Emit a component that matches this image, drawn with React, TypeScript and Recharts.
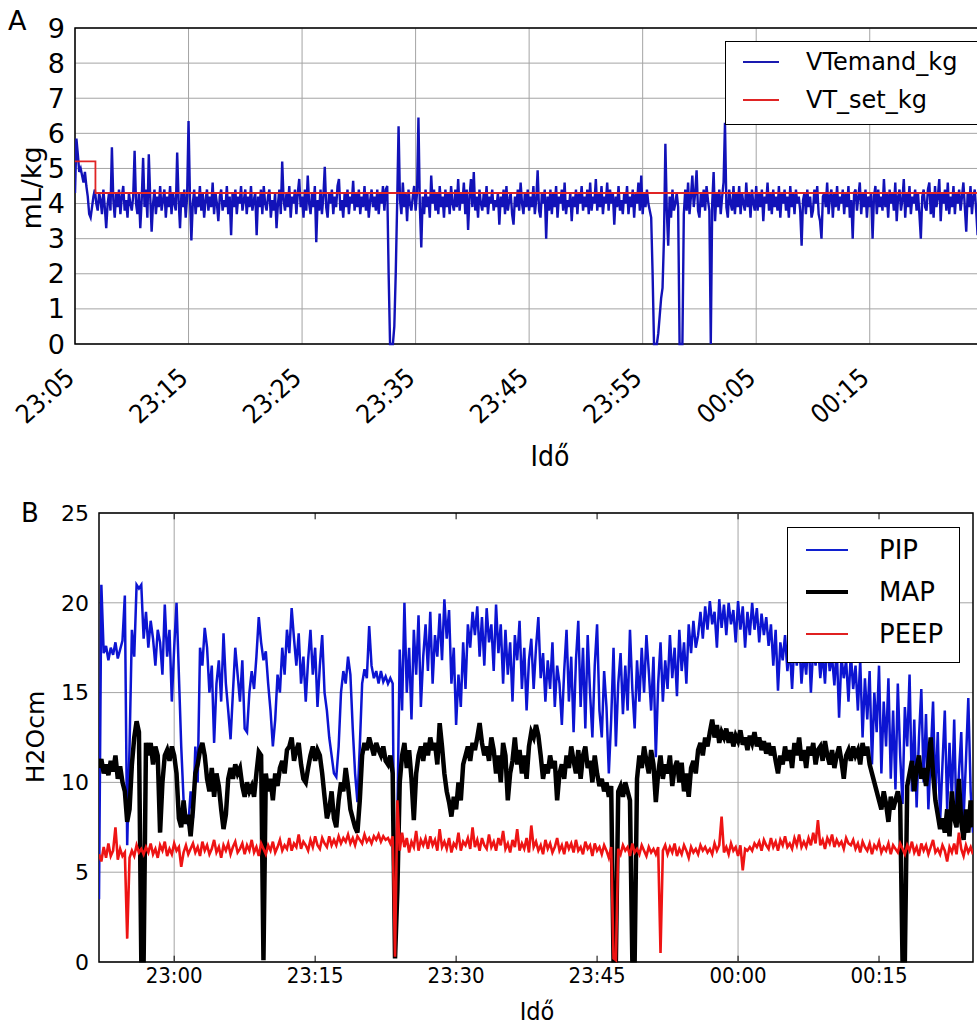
import React from "react"
import {
  LineChart,
  Line,
  XAxis,
  YAxis,
  CartesianGrid,
  ReferenceLine,
  ReferenceArea,
  Legend,
  Label,
} from "recharts"

const FONT = "'DejaVu Sans', 'Liberation Sans', sans-serif"
const FONT_COND = "'DejaVu Sans Condensed', 'DejaVu Sans', sans-serif"
const GRID = "#a4a4a4"

// ---- panel A: minutes after 23:05, one sample every 7.5 s ----
const A_STEP = 0.125
const vtemandKg = [
  4.3, 5.85, 5.4, 4.9, 5.0, 4.8, 4.6, 4.9, 4.5, 4.2, 3.7, 3.6, 3.9, 4.2, 4.4, 4.0, 3.8, 4.3, 4.1, 3.7,
  4.4, 3.9, 3.3, 4.0, 4.3, 3.8, 5.6, 4.1, 3.6, 4.3, 3.9, 4.4, 3.7, 4.2, 4.5, 3.8, 4.1, 3.6, 4.3, 4.0,
  3.8, 4.2, 5.5, 4.0, 3.7, 4.3, 3.3, 4.1, 5.3, 3.9, 4.4, 3.6, 5.4, 4.2, 3.2, 4.0, 4.4, 3.7, 4.2, 3.9,
  4.5, 3.8, 4.1, 4.4, 3.6, 4.2, 3.9, 4.5, 3.7, 4.3, 4.0, 3.8, 5.45, 4.1, 3.3, 4.3, 3.9, 4.4, 3.6, 4.2,
  6.35, 4.2, 2.95, 4.0, 4.4, 3.7, 4.2, 3.9, 4.5, 3.8, 4.3, 3.6, 4.1, 4.4, 3.8, 4.2, 3.9, 4.6, 3.7, 4.3,
  4.0, 3.5, 4.2, 4.4, 3.8, 4.1, 3.9, 4.5, 3.7, 4.2, 3.1, 4.3, 3.9, 4.4, 3.7, 4.2, 4.0, 4.5, 3.8, 4.1,
  4.4, 3.7, 4.2, 3.9, 4.5, 3.8, 4.1, 4.3, 3.1, 4.2, 3.9, 4.4, 3.7, 4.5, 4.0, 3.8, 4.2, 4.4, 3.6, 4.1,
  3.8, 4.3, 3.3, 4.0, 4.4, 3.7, 5.2, 4.1, 3.8, 4.3, 3.9, 4.5, 3.6, 4.2, 4.0, 4.4, 3.7, 4.3, 4.7, 3.9,
  4.2, 3.6, 4.4, 3.8, 4.8, 4.0, 3.7, 4.3, 3.9, 4.5, 2.9, 4.1, 3.8, 4.4, 3.7, 4.2, 5.05, 3.9, 3.6, 4.3,
  4.0, 4.4, 3.7, 4.2, 3.9, 4.5, 4.7, 3.8, 4.1, 3.6, 4.3, 3.9, 4.4, 3.7, 4.2, 4.0, 4.65, 3.8, 4.3, 3.9,
  4.4, 3.7, 4.2, 3.9, 4.5, 3.8, 4.3, 3.6, 4.1, 4.4, 3.9, 4.2, 3.8, 4.4, 3.7, 4.3, 4.0, 4.5, 3.8, 4.4,
  4.5, 2.0, 0, 0, 0, 0.5, 2.0, 4.0, 6.2, 4.1, 3.7, 4.6, 3.9, 4.3, 3.5, 4.4, 4.0, 3.8, 4.2, 4.5,
  3.8, 4.3, 6.45, 3.9, 2.75, 4.2, 3.7, 4.4, 3.9, 4.2, 3.6, 4.8, 4.0, 4.4, 3.8, 4.3, 3.7, 4.5, 3.9, 4.2,
  3.6, 4.4, 3.9, 4.3, 3.7, 4.5, 4.0, 3.8, 4.4, 3.9, 4.7, 3.8, 4.3, 4.0, 4.6, 3.7, 4.4, 3.25, 4.2, 4.7,
  3.9, 4.9, 3.8, 4.2, 3.6, 4.4, 4.0, 3.8, 4.3, 3.9, 4.5, 3.7, 4.2, 4.0, 4.4, 3.8, 4.1, 3.9, 4.3, 3.4,
  4.2, 3.9, 4.4, 3.7, 4.5, 3.8, 4.1, 4.3, 3.7, 3.4, 4.2, 3.9, 4.4, 3.8, 4.6, 4.0, 3.7, 4.3, 3.9, 4.4,
  3.8, 4.2, 3.9, 4.5, 3.7, 4.1, 4.95, 3.8, 3.6, 4.3, 4.0, 4.4, 3.0, 4.2, 3.8, 4.4, 3.7, 4.3, 3.9, 4.5,
  3.6, 4.2, 4.0, 4.4, 3.8, 4.6, 3.7, 4.1, 3.9, 4.3, 3.5, 4.2, 3.9, 4.4, 3.7, 4.3, 4.0, 4.5, 3.8, 4.2,
  3.9, 4.4, 3.7, 4.6, 3.8, 4.2, 4.0, 4.7, 3.8, 4.3, 3.9, 4.5, 3.7, 4.2, 4.0, 4.6, 3.8, 4.4, 4.0, 4.3,
  3.4, 4.2, 3.9, 4.5, 3.8, 4.1, 3.7, 4.3, 4.0, 4.5, 3.7, 4.2, 3.9, 4.4, 3.6, 4.3, 4.0, 4.6, 3.8, 4.8,
  3.7, 4.3, 3.9, 4.4, 4.0, 3.8, 3.6, 2.0, 0, 0, 0, 0.3, 0.8, 1.3, 1.6, 3.0, 5.7, 3.8, 2.8, 4.2,
  3.6, 4.4, 3.8, 4.0, 4.3, 3.9, 0, 0, 0, 3.7, 4.4, 3.8, 4.6, 3.7, 4.2, 4.8, 3.9, 4.3, 4.95, 3.8,
  3.6, 4.3, 3.9, 4.4, 3.8, 4.5, 4.1, 3.8, 0, 4.0, 4.9, 3.5, 4.3, 3.9, 4.4, 3.7, 4.2, 4.6, 6.3, 3.9,
  3.6, 4.4, 4.0, 3.8, 4.5, 3.7, 4.3, 3.9, 4.5, 3.7, 4.3, 4.0, 3.8, 4.6, 3.9, 4.3, 3.6, 4.4, 4.0, 3.8,
  4.5, 3.8, 4.3, 3.9, 4.4, 3.5, 4.2, 4.0, 4.6, 3.8, 4.3, 3.7, 4.4, 3.9, 4.2, 3.8, 4.5, 3.6, 4.3, 4.0,
  4.4, 3.8, 4.2, 3.6, 4.5, 3.9, 4.3, 3.7, 4.4, 4.0, 4.2, 3.8, 2.8, 4.1, 4.3, 3.7, 4.4, 3.9, 4.2, 3.6,
  3.8, 4.4, 4.0, 4.5, 3.7, 3.5, 3.0, 4.2, 4.3, 3.9, 4.6, 3.7, 4.2, 4.4, 3.6, 4.3, 3.9, 4.5, 3.8, 4.2,
  4.0, 4.4, 3.7, 4.3, 3.9, 4.5, 3.6, 4.1, 3.0, 4.3, 4.4, 3.8, 4.2, 4.6, 3.7, 4.3, 3.9, 4.4, 3.6, 4.2,
  3.9, 4.3, 3.0, 4.2, 4.5, 3.7, 4.4, 3.9, 4.2, 3.8, 4.7, 3.9, 4.3, 3.6, 4.4, 4.0, 4.3, 3.8, 4.6, 3.5,
  4.2, 4.4, 3.8, 4.1, 4.7, 3.6, 4.3, 3.9, 4.5, 3.7, 4.2, 4.0, 4.4, 3.8, 4.3, 3.7, 3.0, 4.2, 4.4, 3.9,
  3.8, 4.4, 4.6, 3.7, 4.3, 3.6, 4.5, 3.9, 4.2, 4.7, 3.5, 4.3, 4.0, 4.4, 3.8, 4.6, 3.7, 4.2, 3.9, 4.5,
  3.7, 4.3, 4.0, 4.4, 3.8, 4.2, 4.6, 3.9, 3.2, 4.3, 3.9, 4.5, 3.7, 4.2, 4.4, 3.8, 3.1, 4.3, 4.0, 4.2,
  3.9,
]
const vtSetTimes = [0, 1.8, 80]
const vtSetKg = [5.2, 4.3, 4.3]
const aXTicks = [0, 10, 20, 30, 40, 50, 60, 70]
const aXLabels = ["23:05", "23:15", "23:25", "23:35", "23:45", "23:55", "00:05", "00:15"]
const aYTicks = [0, 1, 2, 3, 4, 5, 6, 7, 8, 9]

// ---- panel B: minutes after 23:00, one sample every 15 s from 22:52 ----
const B_START = -8
const B_STEP = 0.25
const pip = [
  3.5, 21.0, 17.2, 17.6, 16.8, 17.5, 17.1, 17.8, 16.9, 17.4, 17.9, 20.4, 6.5, 12.0, 18.5, 17.0, 21.0, 20.8, 21.0, 18.0,
  19.5, 17.5, 19.0, 18.0, 16.5, 18.5, 17.8, 16.0, 19.9, 17.0, 18.5, 14.5, 17.5, 20.0, 16.0, 12.0, 9.0, 8.2, 7.6, 9.5,
  8.0, 12.0, 10.0, 17.5, 16.5, 18.6, 17.5, 15.0, 16.5, 12.2, 15.5, 16.8, 14.5, 18.3, 15.5, 14.0, 12.4, 15.0, 17.5, 16.0,
  14.5, 16.8, 13.0, 12.8, 15.0, 16.2, 15.2, 17.0, 19.2, 17.8, 16.8, 17.3, 15.5, 14.0, 12.0, 13.5, 16.0, 15.0, 17.5, 16.0,
  18.5, 17.2, 19.7, 18.0, 16.5, 18.3, 15.5, 17.0, 14.5, 16.8, 18.5, 16.0, 17.5, 14.2, 16.5, 18.2, 15.0, 14.0, 12.5, 11.5,
  10.5, 10.3, 12.0, 15.0, 16.2, 15.5, 17.0, 16.0, 13.0, 10.5, 8.9, 12.0, 15.5, 16.3, 15.8, 18.7, 16.5, 15.8, 16.2, 15.5,
  16.2, 15.6, 15.9, 15.5, 15.8, 15.5, 0.3, 8.0, 17.4, 14.0, 20.0, 15.0, 17.5, 13.5, 18.5, 16.0, 19.3, 14.2, 17.0, 18.8,
  16.2, 19.5, 15.5, 18.2, 17.0, 19.4, 16.8, 20.2, 18.0, 19.6, 15.5, 17.5, 13.2, 16.0, 14.2, 17.8, 15.2, 18.8, 17.5, 19.5,
  18.2, 19.8, 17.0, 19.2, 16.5, 19.7, 17.8, 18.8, 16.2, 19.9, 17.2, 18.8, 15.5, 18.5, 16.0, 17.8, 14.5, 18.2, 16.8, 19.0,
  15.2, 17.5, 14.0, 16.8, 18.0, 15.2, 17.5, 19.2, 15.8, 17.2, 14.5, 16.8, 15.2, 17.8, 14.2, 16.5, 15.5, 13.2, 16.2, 18.5,
  14.5, 17.0, 12.8, 16.8, 19.0, 14.2, 17.5, 13.0, 18.2, 15.0, 12.5, 16.5, 18.8, 14.0, 12.5, 16.2, 14.2, 10.5, 13.5, 17.5,
  12.0, 15.5, 17.2, 13.8, 16.5, 14.0, 18.5, 15.2, 13.0, 16.8, 14.5, 17.5, 15.0, 18.2, 16.2, 14.0, 17.0, 11.4, 15.5, 17.8,
  14.5, 16.8, 15.2, 18.2, 15.8, 17.5, 14.8, 18.5, 16.2, 17.8, 15.5, 18.8, 17.2, 19.0, 17.5, 18.2, 19.5, 18.0, 19.8, 18.5,
  20.1, 18.8, 19.5, 17.5, 20.2, 18.6, 19.9, 18.2, 20.0, 18.8, 19.6, 17.8, 20.1, 18.5, 19.8, 17.5, 19.5, 18.2, 20.0, 18.5,
  19.7, 17.8, 19.4, 18.2, 19.2, 17.6, 18.8, 16.5, 18.5, 15.1, 17.8, 16.8, 18.2, 16.2, 17.5, 15.2, 17.8, 16.5, 18.0, 15.5,
  17.2, 16.0, 18.2, 15.0, 17.5, 16.5, 17.8, 15.8, 17.2, 15.5, 18.0, 16.2, 17.0, 15.4, 17.5, 13.6, 17.0, 15.8, 16.8, 14.5,
  17.2, 15.2, 16.5, 14.0, 16.8, 12.5, 15.8, 13.5, 16.2, 11.0, 15.0, 12.8, 16.5, 10.5, 14.5, 12.0, 15.8, 10.2, 14.0, 9.6,
  15.5, 11.5, 8.8, 14.2, 12.0, 16.0, 9.5, 13.5, 8.6, 12.5, 15.2, 10.0, 13.8, 8.5, 11.5, 14.5, 9.2, 12.8, 7.8, 11.0,
  14.0, 8.5, 12.2, 9.0, 13.5, 7.5, 10.5, 12.8, 8.0, 11.2, 14.7, 9.5, 7.2,
]
const map = [
  10.8, 11.3, 10.5, 11.0, 10.4, 11.2, 10.6, 11.5, 10.2, 10.9, 10.0, 9.5, 7.8, 8.5, 11.0, 12.5, 13.4, 12.8, 0.1, 0.1,
  12.2, 11.5, 12.2, 11.0, 12.0, 11.5, 7.2, 10.0, 11.5, 11.8, 11.2, 12.0, 11.5, 10.5, 8.0, 7.5, 9.0, 7.7, 8.2, 7.0,
  8.5, 10.5, 11.0, 11.8, 12.2, 11.5, 10.2, 9.5, 10.8, 9.2, 10.5, 9.8, 8.5, 7.4, 8.2, 10.2, 10.8, 10.2, 11.0, 10.5,
  10.8, 9.8, 9.2, 10.0, 9.5, 9.8, 9.2, 10.5, 11.7, 11.5, 0.1, 10.5, 9.5, 10.2, 9.0, 10.5, 9.8, 10.8, 11.2, 10.5,
  11.8, 12.0, 12.5, 11.2, 11.8, 12.2, 11.0, 10.2, 10.0, 10.8, 11.5, 12.0, 11.2, 11.8, 11.5, 10.5, 9.2, 8.0, 8.5, 9.5,
  8.0, 7.5, 9.0, 10.0, 9.5, 10.8, 9.8, 8.5, 8.0, 7.5, 7.2, 9.0, 11.5, 12.2, 11.8, 12.5, 12.0, 11.5, 12.2, 11.8,
  11.5, 12.0, 11.2, 11.0, 11.5, 10.5, 0.2, 4.0, 10.0, 11.5, 12.2, 10.8, 11.8, 10.2, 7.9, 10.5, 11.5, 12.0, 11.2, 12.2,
  11.5, 12.5, 11.8, 12.2, 11.0, 13.3, 12.0, 10.5, 9.5, 8.9, 8.1, 9.2, 8.5, 10.0, 9.0, 11.0, 11.5, 12.0, 11.2, 12.2,
  11.8, 12.5, 13.3, 12.2, 11.5, 12.0, 11.2, 12.5, 11.8, 10.5, 11.5, 10.0, 12.2, 11.5, 9.0, 10.5, 11.2, 12.5, 11.0, 11.8,
  10.5, 11.5, 10.2, 12.0, 12.8, 12.5, 13.2, 12.6, 11.5, 10.2, 11.0, 10.5, 11.5, 10.8, 11.2, 9.0, 10.5, 11.0, 10.2, 11.5,
  10.8, 12.0, 11.2, 10.5, 11.8, 10.2, 11.5, 12.0, 10.8, 11.2, 10.0, 11.5, 10.5, 9.8, 10.2, 9.5, 10.0, 9.2, 9.8, 0.1,
  0.1, 9.5, 9.8, 9.2, 10.0, 9.5, 9.0, 0.1, 0.1, 10.2, 11.5, 10.8, 12.0, 11.2, 10.5, 11.8, 11.0, 8.9, 10.5, 11.5,
  10.2, 11.0, 10.5, 11.5, 9.8, 10.8, 11.2, 10.0, 11.1, 9.5, 10.5, 9.2, 10.8, 11.2, 10.5, 11.8, 12.2, 11.5, 12.5, 12.0,
  12.8, 13.5, 12.5, 13.2, 12.2, 12.8, 12.5, 13.0, 12.2, 12.8, 12.0, 12.6, 12.3, 12.9, 12.1, 12.5, 11.8, 12.6, 12.2, 12.8,
  12.0, 12.5, 11.8, 12.3, 11.6, 12.2, 11.5, 12.0, 11.2, 10.5, 11.5, 11.0, 12.0, 11.2, 11.8, 10.8, 12.2, 11.5, 12.5, 11.2,
  11.8, 10.8, 12.0, 11.5, 12.2, 11.0, 11.8, 12.0, 11.2, 12.3, 11.5, 11.0, 11.8, 10.8, 11.5, 12.0, 11.2, 10.2, 11.5, 11.8,
  11.2, 12.0, 11.5, 11.8, 11.0, 12.2, 11.5, 12.0, 11.0, 10.5, 10.0, 9.5, 9.0, 8.5, 9.5, 8.8, 7.8, 9.2, 8.5, 9.0,
  9.5, 8.8, 0.1, 0.1, 9.8, 10.5, 11.2, 9.5, 10.8, 11.5, 10.2, 10.8, 9.8, 11.0, 12.5, 10.5, 9.0, 8.2, 7.4, 8.0,
  7.2, 8.5, 7.0, 9.5, 8.0, 7.5, 10.2, 7.8, 6.8, 8.5, 7.2, 9.0, 7.5,
]
const peep = [
  6.0, 5.6, 6.4, 5.8, 6.6, 5.9, 6.2, 7.5, 5.7, 6.3, 5.9, 6.1, 1.3, 5.8, 6.2, 5.9, 6.5, 6.1, 6.3, 6.0,
  6.4, 6.1, 6.6, 6.0, 6.3, 5.8, 6.5, 6.2, 6.7, 5.9, 6.3, 6.0, 6.6, 6.2, 6.4, 5.3, 6.1, 6.5, 6.0, 6.3,
  6.6, 6.1, 6.4, 5.9, 6.7, 6.2, 6.5, 6.0, 6.3, 6.8, 6.1, 6.4, 5.8, 6.5, 6.2, 6.6, 6.0, 6.4, 6.7, 6.1,
  6.3, 6.6, 6.0, 6.5, 6.2, 6.8, 6.1, 6.4, 5.9, 6.6, 6.3, 6.0, 6.5, 6.2, 6.7, 6.1, 6.4, 6.8, 6.2, 6.5,
  6.3, 6.9, 6.2, 6.6, 6.4, 7.1, 6.3, 6.7, 6.5, 6.2, 6.8, 6.4, 7.0, 6.5, 6.3, 6.9, 6.6, 6.4, 7.0, 6.5,
  6.8, 6.5, 7.0, 6.6, 6.9, 6.7, 7.1, 6.6, 6.9, 6.5, 7.0, 6.8, 6.6, 7.1, 6.7, 6.9, 6.6, 7.0, 6.8, 7.1,
  6.7, 7.0, 6.8, 6.9, 6.6, 7.0, 0.3, 9.0, 6.2, 7.2, 6.4, 6.9, 6.1, 6.7, 6.4, 7.3, 6.2, 6.8, 6.5, 6.9,
  6.3, 7.0, 6.5, 6.8, 6.2, 7.4, 6.4, 6.7, 6.3, 6.9, 6.1, 6.6, 6.4, 7.2, 6.2, 6.7, 6.5, 6.9, 6.3, 7.5,
  6.4, 6.8, 6.2, 6.9, 6.5, 6.3, 7.1, 6.4, 6.7, 6.2, 6.9, 6.5, 7.3, 6.3, 6.6, 6.1, 6.8, 6.4, 7.4, 6.2,
  6.6, 6.3, 6.9, 6.1, 7.6, 6.4, 6.7, 6.2, 6.5, 6.0, 6.8, 6.3, 6.6, 6.1, 6.4, 6.9, 6.2, 6.5, 6.0, 6.7,
  6.3, 6.6, 6.1, 6.8, 6.2, 6.4, 6.0, 6.7, 6.3, 6.5, 5.9, 6.6, 6.2, 6.4, 6.0, 6.5, 6.2, 5.8, 6.4, 0.2,
  0.1, 6.3, 6.0, 6.5, 6.2, 6.4, 5.9, 6.6, 6.1, 6.3, 6.0, 6.5, 6.2, 5.9, 6.4, 6.1, 6.3, 6.0, 6.4, 0.5,
  6.2, 6.5, 6.0, 6.4, 6.1, 6.6, 5.9, 6.3, 6.0, 6.5, 6.2, 5.8, 6.4, 6.1, 6.3, 6.0, 6.5, 6.2, 6.4, 6.1,
  6.3, 6.0, 6.6, 6.2, 6.5, 8.1, 6.1, 6.4, 6.0, 6.6, 6.2, 6.4, 5.9, 6.5, 5.1, 6.3, 6.2, 6.4, 6.2, 6.6,
  6.4, 6.7, 6.2, 6.8, 6.5, 6.3, 6.9, 6.4, 6.7, 6.2, 6.8, 6.5, 7.0, 6.4, 6.6, 6.3, 6.9, 6.5, 7.1, 6.4,
  6.7, 6.4, 6.9, 6.5, 7.2, 6.6, 7.9, 6.5, 6.8, 6.3, 6.9, 6.6, 7.1, 6.4, 6.8, 6.5, 6.7, 6.3, 6.9, 6.6,
  6.5, 6.8, 6.3, 6.6, 6.1, 6.7, 6.4, 6.2, 6.6, 6.0, 6.5, 6.3, 6.7, 6.1, 6.4, 6.2, 6.6, 6.0, 6.5, 6.3,
  6.1, 6.6, 6.3, 6.0, 6.5, 6.2, 6.7, 6.1, 6.4, 5.9, 6.6, 6.2, 6.5, 6.0, 6.4, 6.8, 6.1, 6.3, 6.0, 6.5,
  6.2, 5.6, 6.4, 6.1, 6.6, 6.0, 7.2, 6.3, 5.9, 6.5, 6.1, 6.4, 6.0,
]
const bXTicks = [0, 15, 30, 45, 60, 75]
const bXLabels = ["23:00", "23:15", "23:30", "23:45", "00:00", "00:15"]
const bGridX = [0, 60]
const bYTicks = [0, 5, 10, 15, 20, 25]

const aData = vtemandKg.map((v, i) => ({ t: i * A_STEP, v }))
const setData = vtSetTimes.map((t, i) => ({ t, v: vtSetKg[i] }))
const toRows = (vals: number[]) => vals.map((v, i) => ({ t: B_START + i * B_STEP, v }))
const pipData = toRows(pip)
const mapData = toRows(map)
const peepData = toRows(peep)

type Entry = { name: string; color: string; w: number }
const legendA: Entry[] = [
  { name: "VTemand_kg", color: "#1a1ab0", w: 2 },
  { name: "VT_set_kg", color: "#e02424", w: 2 },
]
const legendB: Entry[] = [
  { name: "PIP", color: "#1020d0", w: 1.5 },
  { name: "MAP", color: "#000", w: 4 },
  { name: "PEEP", color: "#e02020", w: 1.5 },
]

function ATick(props: any) {
  const { x, y, payload } = props
  const label = aXLabels[aXTicks.indexOf(payload.value)]
  const ax = x + 1
  const ay = y + 36
  return (
    <text
      x={ax}
      y={ay}
      textAnchor="end"
      transform={`rotate(-42, ${ax}, ${ay})`}
      fontSize={26}
      fontFamily={FONT_COND}
      style={{ fontStretch: "condensed" }}
      fill="#000"
    >
      {label}
    </text>
  )
}

function BTick(props: any) {
  const { x, y, payload } = props
  const label = bXLabels[bXTicks.indexOf(payload.value)]
  return (
    <text
      x={x}
      y={y + 21}
      textAnchor="middle"
      fontSize={22}
      fontFamily={FONT_COND}
      style={{ fontStretch: "condensed" }}
      fill="#000"
    >
      {label}
    </text>
  )
}

function makeLegend(entries: Entry[], o: any) {
  return (props: any) => {
    const shown = new Set((props.payload || []).map((p: any) => p.value))
    return (
      <div
        style={{
          background: "#fff",
          border: "1.5px solid #000",
          width: o.w,
          height: o.h,
          boxSizing: "border-box",
          paddingTop: o.pad,
        }}
      >
        {entries
          .filter((e) => shown.size === 0 || shown.has(e.name))
          .map((e) => (
            <div key={e.name} style={{ display: "flex", alignItems: "center", height: o.row }}>
              <div style={{ marginLeft: o.lineLeft, width: o.lineW, height: e.w, background: e.color }} />
              <span
                style={{
                  marginLeft: o.gap,
                  fontSize: o.font,
                  fontFamily: FONT,
                  color: "#000",
                  lineHeight: 1,
                  whiteSpace: "nowrap",
                }}
              >
                {e.name}
              </span>
            </div>
          ))}
      </div>
    )
  }
}

const legendContentA = makeLegend(legendA, {
  w: 280, h: 84, pad: 1, row: 38, lineLeft: 17, lineW: 36, gap: 27, font: 24,
})
const legendContentB = makeLegend(legendB, {
  w: 173, h: 136, pad: 1, row: 42, lineLeft: 18, lineW: 42, gap: 31, font: 26,
})

function PanelA() {
  return (
    <LineChart width={983} height={480} margin={{ top: 28, right: 2, bottom: 0, left: 0 }}>
      <CartesianGrid stroke={GRID} strokeWidth={1} />
      <XAxis
        type="number"
        dataKey="t"
        domain={[0, 79.8]}
        ticks={aXTicks}
        interval={0}
        allowDataOverflow
        height={136}
        tickSize={0}
        tickMargin={0}
        tickLine={false}
        axisLine={false}
        tick={<ATick />}
      >
        <Label
          content={() => (
            <text x={550} y={466} textAnchor="middle" fontSize={28} fontFamily={FONT_COND} style={{ fontStretch: "condensed" }} fill="#000">
              Idő
            </text>
          )}
        />
      </XAxis>
      <YAxis
        type="number"
        domain={[0, 9]}
        ticks={aYTicks}
        interval={0}
        width={75}
        tickSize={0}
        tickMargin={10}
        tickLine={false}
        axisLine={false}
        tick={{ fill: "#000", fontSize: 27, fontFamily: FONT }}
      >
        <Label
          content={() => (
            <text x={41} y={188} textAnchor="middle" transform="rotate(-90, 41, 188)" fontSize={27} fontFamily={FONT} fill="#000">
              mL/kg
            </text>
          )}
        />
      </YAxis>
      <Line
        data={aData}
        dataKey="v"
        name="VTemand_kg"
        type="linear"
        stroke="#1212b8"
        strokeWidth={2.4}
        dot={false}
        activeDot={false}
        isAnimationActive={false}
      />
      <Line
        data={setData}
        dataKey="v"
        name="VT_set_kg"
        type="stepAfter"
        stroke="#e02424"
        strokeWidth={1.8}
        dot={false}
        activeDot={false}
        isAnimationActive={false}
      />
      <ReferenceArea x1={0} x2={79.8} y1={0} y2={9} fill="none" fillOpacity={0} stroke="#000" strokeWidth={1.5} ifOverflow="visible" />
      <Legend
        layout="horizontal"
        verticalAlign="middle"
        align="center"
        content={legendContentA}
        wrapperStyle={{ left: 725, top: 41, width: 280, height: 84 }}
      />
    </LineChart>
  )
}

function PanelB() {
  return (
    <LineChart width={977} height={535} margin={{ top: 23, right: 4, bottom: 0, left: 0 }}>
      <CartesianGrid vertical={false} stroke={GRID} strokeWidth={1} />
      {bGridX.map((t) => (
        <ReferenceLine key={"g" + t} x={t} stroke={GRID} strokeWidth={1} />
      ))}
      {bXTicks.map((t) => (
        <ReferenceLine key={"tb" + t} segment={[{ x: t, y: 0 }, { x: t, y: 0.35 }]} stroke="#000" strokeWidth={1} />
      ))}
      {bXTicks.map((t) => (
        <ReferenceLine key={"tt" + t} segment={[{ x: t, y: 25 }, { x: t, y: 24.65 }]} stroke="#000" strokeWidth={1} />
      ))}
      <XAxis
        type="number"
        dataKey="t"
        domain={[-8, 85]}
        ticks={bXTicks}
        interval={0}
        allowDataOverflow
        height={63}
        tickSize={0}
        tickMargin={0}
        tickLine={false}
        axisLine={false}
        tick={<BTick />}
      >
        <Label
          content={() => (
            <text x={537} y={530} textAnchor="middle" fontSize={25} fontFamily={FONT_COND} style={{ fontStretch: "condensed" }} fill="#000">
              Idő
            </text>
          )}
        />
      </XAxis>
      <YAxis
        type="number"
        domain={[0, 25]}
        ticks={bYTicks}
        interval={0}
        width={99}
        tickSize={0}
        tickMargin={10}
        tickLine={false}
        axisLine={false}
        tick={{ fill: "#000", fontSize: 22, fontFamily: FONT }}
      >
        <Label
          content={() => (
            <text x={44} y={247} textAnchor="middle" transform="rotate(-90, 44, 247)" fontSize={25} fontFamily={FONT} fill="#000">
              H2Ocm
            </text>
          )}
        />
      </YAxis>
      <Line
        data={pipData}
        dataKey="v"
        name="PIP"
        type="linear"
        stroke="#0c14d2"
        strokeWidth={2.5}
        dot={false}
        activeDot={false}
        isAnimationActive={false}
      />
      <Line
        data={mapData}
        dataKey="v"
        name="MAP"
        type="linear"
        stroke="#000"
        strokeWidth={4.5}
        dot={false}
        activeDot={false}
        isAnimationActive={false}
      />
      <Line
        data={peepData}
        dataKey="v"
        name="PEEP"
        type="linear"
        stroke="#ee1414"
        strokeWidth={2.6}
        dot={false}
        activeDot={false}
        isAnimationActive={false}
      />
      <ReferenceArea x1={-8} x2={85} y1={0} y2={25} fill="none" fillOpacity={0} stroke="#000" strokeWidth={1.5} ifOverflow="visible" />
      <Legend
        layout="horizontal"
        verticalAlign="middle"
        align="center"
        content={legendContentB}
        wrapperStyle={{ left: 787, top: 37, width: 173, height: 136 }}
      />
    </LineChart>
  )
}

export default function App() {
  return (
    <div
      style={{
        position: "absolute",
        left: 0,
        top: 0,
        width: 977,
        height: 1025,
        overflow: "hidden",
        background: "#fff",
      }}
    >
      <div style={{ position: "absolute", left: 0, top: 0 }}>
        <PanelA />
      </div>
      <div style={{ position: "absolute", left: 0, top: 490 }}>
        <PanelB />
      </div>
      <div style={{ position: "absolute", left: 8, top: 7, fontSize: 27, lineHeight: 1, fontFamily: FONT }}>A</div>
      <div style={{ position: "absolute", left: 21, top: 500, fontSize: 26, lineHeight: 1, fontFamily: FONT }}>B</div>
    </div>
  )
}
